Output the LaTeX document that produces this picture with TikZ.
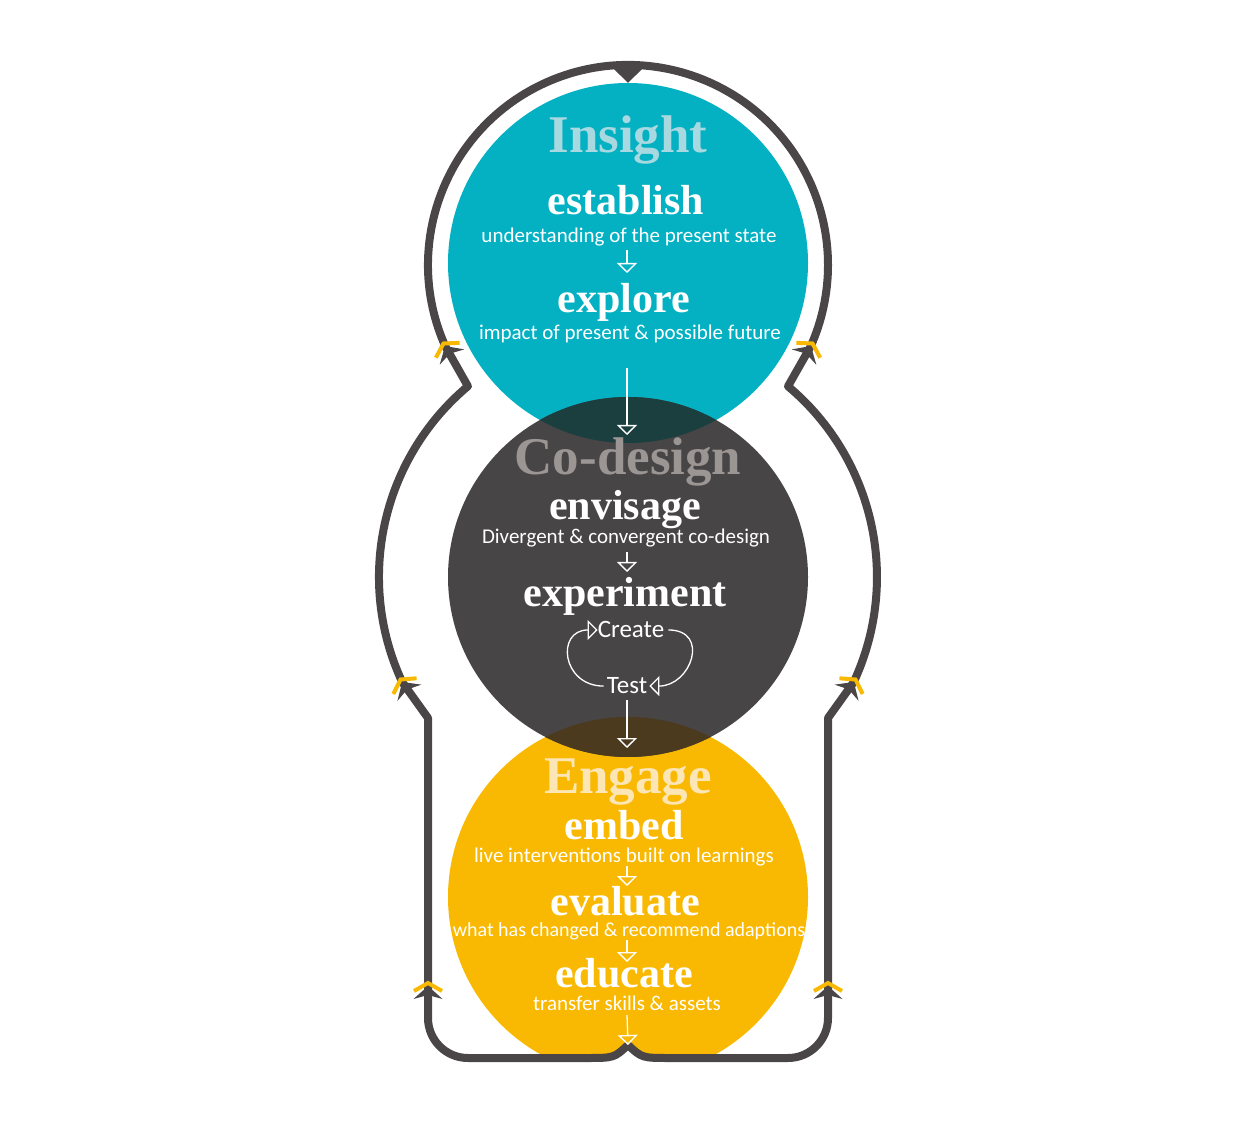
\documentclass[tikz,border=0pt]{standalone}
\usepackage{fontspec}
\setmainfont{Liberation Serif}
\newfontfamily\handfont{Carlito}
\usetikzlibrary{arrows.meta}

\definecolor{insightteal}{HTML}{03B1C3}
\definecolor{insightpale}{HTML}{A9D9E0}
\definecolor{codark}{HTML}{484546}
\definecolor{copale}{HTML}{9B9594}
\definecolor{engageyellow}{HTML}{F9B902}
\definecolor{engagepale}{HTML}{FDE6B6}
\definecolor{lensteal}{HTML}{1B3E3F}
\definecolor{lensbrown}{HTML}{4B3A1E}
\definecolor{loopgrey}{HTML}{4A4647}

\tikzset{
  phase/.style={circle,minimum size=360,inner sep=0,draw=none},
  title/.style={font=\fontsize{53}{53}\selectfont\bfseries,inner sep=0,anchor=base},
  stepword/.style={font=\fontsize{42}{42}\selectfont\bfseries,text=white,inner sep=0,anchor=base},
  note/.style={font=\handfont\fontsize{21}{21}\selectfont,text=white,inner sep=0,anchor=base},
  inarrow/.style={draw=white,line width=1.3pt,-{Triangle[open,width=20pt,length=10pt,line width=1.3pt]}},
  loopline/.style={draw=loopgrey,line width=8pt,line join=round},
  looptip/.pic={
    \fill[loopgrey] (-3,0) -- (-16,14.5) -- (-12,0) -- (-16,-14.5) -- cycle;
    \draw[engageyellow,line width=4pt,line join=miter] (-8,14) -- (0,0) -- (-8,-14);
  }
}

\begin{document}
\begin{tikzpicture}[x=1pt,y=1pt]
\useasboundingbox (0,0) rectangle (1241,1125);

% the three phases
\node[phase,fill=insightteal] (insight) at (628,862) {};
\node[phase,fill=engageyellow] (engage) at (628,228) {};
\node[phase,fill=codark] (codesign) at (628,548) {};
\begin{scope}
\clip (insight.center) circle[radius=180];
\fill[lensteal] (codesign.center) circle[radius=180];
\end{scope}
\begin{scope}
\clip (engage.center) circle[radius=180];
\fill[lensbrown] (codesign.center) circle[radius=180];
\end{scope}

% loop round the outside
\coordinate (J) at (628,80);
\coordinate (top) at (628,1060);
\fill[white] (J) .. controls (614,67) .. (586,67) -- (400,67) -- (400,0) -- (860,0) -- (860,67) -- (670,67) .. controls (642,67) .. (J);
\draw[loopline] (J) .. controls (614,67) .. (586,67) -- (468,67)
  arc[start angle=-90,end angle=-180,radius=40] -- (428,407) -- (402.3,442.8)
  arc[start angle=205,end angle=130,radius=249] -- (445.3,778.7)
  arc[start angle=204,end angle=-24,radius=200] -- (788,738.7)
  arc[start angle=50,end angle=-25,radius=249] -- (828,407) -- (828,107)
  arc[start angle=0,end angle=-90,radius=40] -- (670,67) .. controls (642,67) .. (J);
\draw[loopline,-{Triangle[width=28pt,length=14pt]}] (top) -- (insight.north);
\pic[rotate=90] at (428,142) {looptip};
\pic[rotate=124] at (400.5,445.5) {looptip};
\pic[rotate=122] at (443.5,781.5) {looptip};
\pic[rotate=90] at (828,142) {looptip};
\pic[rotate=56] at (855.5,445.5) {looptip};
\pic[rotate=58] at (812.5,781.5) {looptip};

% Insight
\node[title,text=insightpale] (insighttitle) at (628,972) {Insight};
\node[stepword] (establish) at (626,910) {establish};
\node[note] (establishnote) at (629,882) {understanding of the present state};
\node[stepword] (explore) at (624,812) {explore};
\node[note] (explorenote) at (630,785) {impact of present \& possible future};

% Co-design
\node[title,text=copale] (codesigntitle) at (628,650) {Co-design};
\node[stepword] (envisage) at (625,605) {envisage};
\node[note] (envisagenote) at (626,581) {Divergent \& convergent co-design};
\node[stepword] (experiment) at (625,518) {experiment};
\node[note,font=\handfont\fontsize{25}{25}\selectfont] (create) at (631,487) {Create};
\node[note,font=\handfont\fontsize{25}{25}\selectfont] (test) at (627,431) {Test};

% Engage
\node[title,text=engagepale] (engagetitle) at (628,332) {Engage};
\node[stepword] (embed) at (624,286) {embed};
\node[note] (embednote) at (624,263) {live interventions built on learnings};
\node[stepword] (evaluate) at (625,210) {evaluate};
\node[note,font=\handfont\fontsize{20}{20}\selectfont] (evaluatenote) at (629,189) {what has changed \& recommend adaptions};
\node[stepword] (educate) at (624,138) {educate};
\node[note] (educatenote) at (627,115) {transfer skills \& assets};

% arrows inside the circles
\draw[inarrow] (627,875) -- (627,852);
\draw[inarrow] (627,757) -- (627,690);
\draw[inarrow] (627,573) -- (627,553);
\draw[inarrow] (627,425) -- (627,377);
\draw[inarrow] (627,259) -- (627,239);
\draw[inarrow] (627,185) -- (627,163);
\draw[inarrow] (627,110) -- (J);
\draw[inarrow] ([xshift=-3pt]test.west) .. controls +(-42,0) and +(-42,0) .. (create.west);
\draw[inarrow] ([xshift=4pt]create.east) .. controls +(42,0) and +(42,0) .. ([xshift=2pt]test.east);
\end{tikzpicture}
\end{document}
